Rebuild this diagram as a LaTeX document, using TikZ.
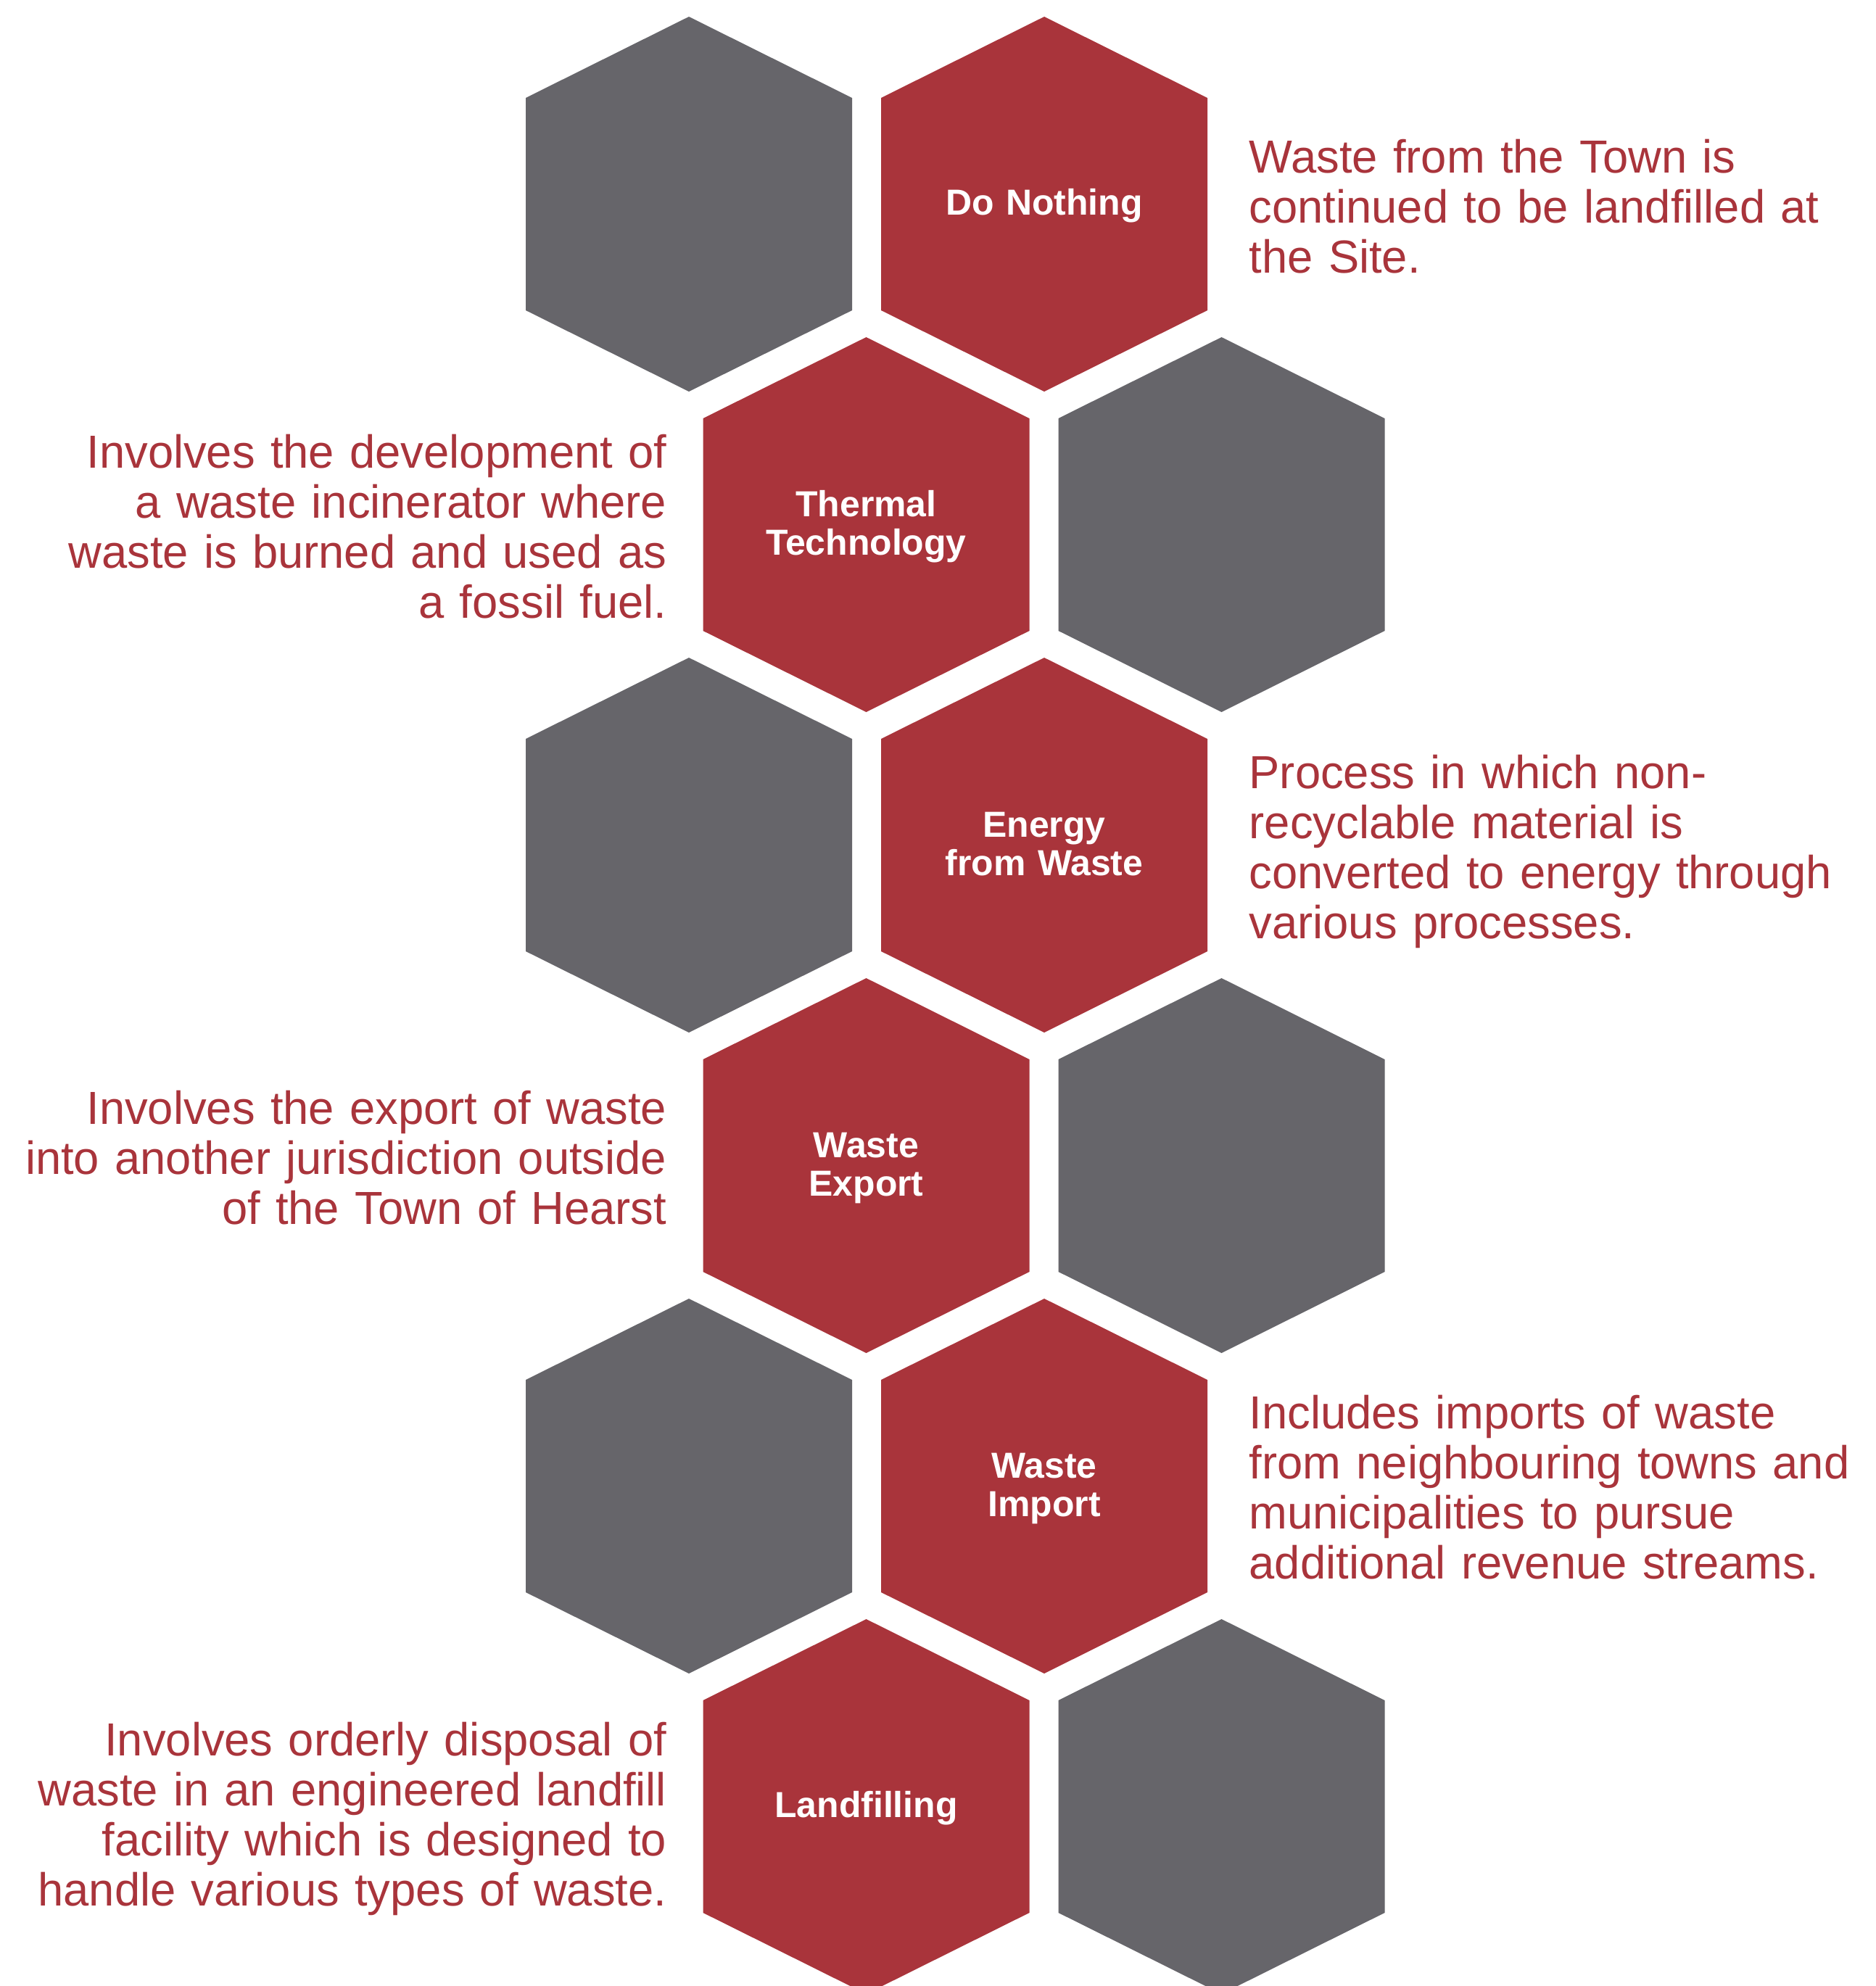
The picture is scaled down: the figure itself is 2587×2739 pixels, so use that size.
\documentclass[tikz,border=0pt]{standalone}
\usepackage{fontspec}
\setmainfont{Liberation Sans}
\newfontfamily\txtfont{Liberation Sans}[FakeStretch=0.99]
\definecolor{hexred}{RGB}{169,52,59}
\definecolor{hexgray}{RGB}{102,101,106}
\tikzset{
  hexa/.pic={\path[pic actions] (0,-258.5) -- (225,-146.5) -- (225,146.5) -- (0,258.5) -- (-225,146.5) -- (-225,-146.5) -- cycle;},
  redhex/.style={fill=hexred},
  grayhex/.style={fill=hexgray},
  hexlabel/.style={text=white, font=\fontsize{14.2}{15.2}\selectfont\bfseries, text width=4cm, align=center, inner sep=0pt, anchor=base},
  righttxt/.style={text=hexred, font=\txtfont\fontsize{18.2}{19.65}\selectfont, text width=8.6cm, align=left, inner sep=0pt, anchor=base west},
  lefttxt/.style={text=hexred, font=\txtfont\fontsize{18.2}{19.65}\selectfont, text width=9cm, align=right, inner sep=0pt, anchor=base east}
}
\begin{document}
\begin{tikzpicture}[x=0.1mm, y=-0.1mm]
\path[use as bounding box, clip] (0,0) rectangle (2587,2739);

\pic[grayhex] at (950,281.5) {hexa};
\pic[redhex] at (1440,281.5) {hexa};
\pic[redhex] at (1194.5,723.5) {hexa};
\pic[grayhex] at (1684.5,723.5) {hexa};
\pic[grayhex] at (950,1165.5) {hexa};
\pic[redhex] at (1440,1165.5) {hexa};
\pic[redhex] at (1194.5,1607.5) {hexa};
\pic[grayhex] at (1684.5,1607.5) {hexa};
\pic[grayhex] at (950,2049.5) {hexa};
\pic[redhex] at (1440,2049.5) {hexa};
\pic[redhex] at (1194.5,2491.5) {hexa};
\pic[grayhex] at (1684.5,2491.5) {hexa};

\node[hexlabel] (nothing) at (1440,296.5) {Do Nothing};
\node[hexlabel] (thermal) at (1194.5,712.5) {Thermal\\Technology};
\node[hexlabel] (energy) at (1440,1154.5) {Energy\\from Waste};
\node[hexlabel] (export) at (1194.5,1596.5) {Waste\\Export};
\node[hexlabel] (import) at (1440,2038.5) {Waste\\Import};
\node[hexlabel] (landfill) at (1194.5,2506.5) {Landfilling};

\node[righttxt] (nothingtxt) at (1722,238) {Waste from the Town is\\continued to be landfilled at\\the Site.};
\node[lefttxt] (thermaltxt) at (920,645) {Involves the development of\\a waste incinerator where\\waste is burned and used as\\a fossil fuel.};
\node[righttxt] (energytxt) at (1722,1087) {Process in which non-\\recyclable material is\\converted to energy through\\various processes.};
\node[lefttxt] (exporttxt) at (920,1550) {Involves the export of waste\\into another jurisdiction outside\\of the Town of Hearst};
\node[righttxt] (importtxt) at (1722,1970) {Includes imports of waste\\from neighbouring towns and\\municipalities to pursue\\additional revenue streams.};
\node[lefttxt] (landfilltxt) at (920,2421) {Involves orderly disposal of\\waste in an engineered landfill\\facility which is designed to\\handle various types of waste.};
\end{tikzpicture}
\end{document}
